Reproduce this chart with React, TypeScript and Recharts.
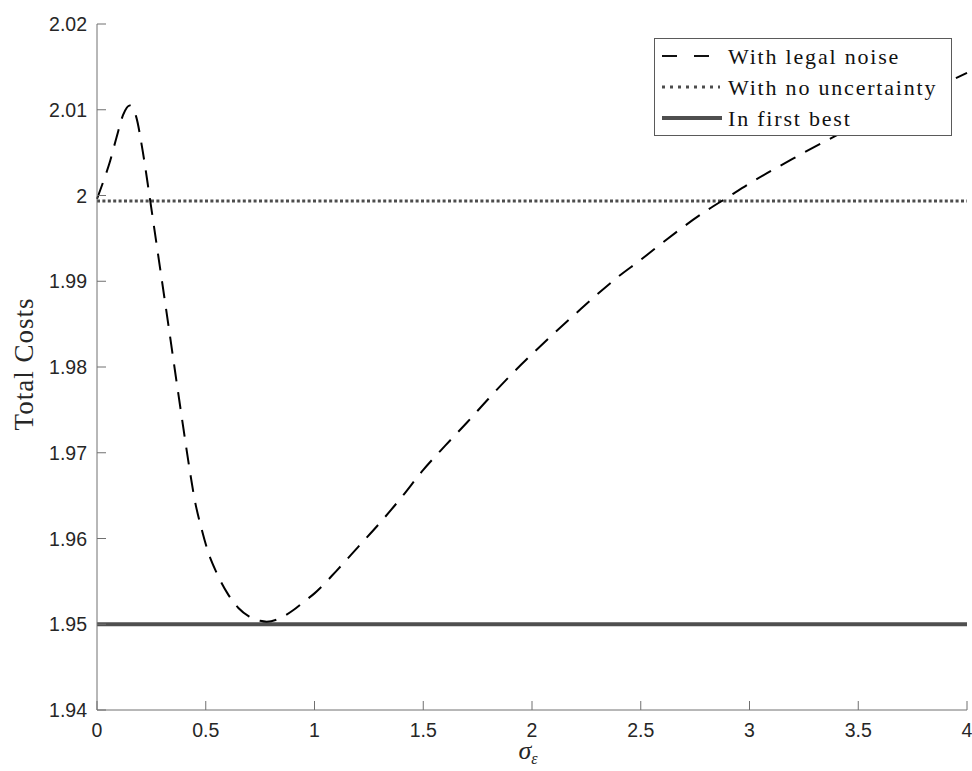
import React from "react";
import { Label, Legend, Line, LineChart, XAxis, YAxis } from "recharts";

// sigma_eps grid and total costs
const sigmaValues = [
  0, 0.03, 0.06, 0.09, 0.12, 0.15, 0.18, 0.21, 0.24, 0.27, 0.3, 0.33, 0.36, 0.39, 0.42, 0.45,
  0.48, 0.51, 0.55, 0.6, 0.65, 0.7, 0.75, 0.78, 0.85, 0.9, 0.95, 1, 1.1, 1.2, 1.3, 1.4, 1.5,
  1.6, 1.7, 1.8, 1.9, 2, 2.2, 2.4, 2.5, 2.6, 2.8, 2.9, 3, 3.2, 3.4, 3.6, 3.8, 4,
];
const legalNoiseCosts = [
  1.9996, 2.0017, 2.004, 2.0068, 2.0094, 2.0105, 2.0092, 2.0052, 2.0002, 1.995, 1.9898, 1.9846,
  1.9793, 1.9741, 1.969, 1.9644, 1.9612, 1.9585, 1.956, 1.9536, 1.9519, 1.9509, 1.9504, 1.9503,
  1.9508, 1.9516, 1.9526, 1.9536, 1.9562, 1.959, 1.9618, 1.9648, 1.968, 1.9708, 1.9735, 1.9763,
  1.979, 1.9815, 1.9862, 1.9906, 1.9925, 1.9945, 1.9982, 1.9998, 2.0014, 2.0043, 2.007, 2.0094,
  2.0119, 2.0143,
];
const noUncertaintyCost = 1.99935;
const firstBestCost = 1.95;

const xTicks = [0, 0.5, 1, 1.5, 2, 2.5, 3, 3.5, 4];
const yTicks = [1.94, 1.95, 1.96, 1.97, 1.98, 1.99, 2, 2.01, 2.02];

const legendItems = [
  { key: "noise", label: "With legal noise" },
  { key: "none", label: "With no uncertainty" },
  { key: "first", label: "In first best" },
];

const data = sigmaValues.map((s, i) => ({
  sigma: s,
  noise: legalNoiseCosts[i],
  none: noUncertaintyCost,
  first: firstBestCost,
}));

const AXIS = "#707070";
const TEXT = "#262626";
const SANS = "'Liberation Sans', Arial, Helvetica, sans-serif";
const SERIF = "'Liberation Serif', 'Times New Roman', serif";

const fmt = (v: number) => String(Number(v.toFixed(2)));

const YTick = ({ x, y, payload }: any) => (
  <g>
    <line x1={x + 10} x2={x + 19} y1={y} y2={y} stroke={AXIS} />
    <text x={x} y={y} dy="0.36em" textAnchor="end" fill={TEXT} fontFamily={SANS} fontSize={19.5}>
      {fmt(payload.value)}
    </text>
  </g>
);

const XTick = ({ x, y, payload }: any) => (
  <g>
    <line x1={x} x2={x} y1={y - 13} y2={y - 22} stroke={AXIS} />
    <text x={x} y={y} dy="0.71em" textAnchor="middle" fill={TEXT} fontFamily={SANS} fontSize={19.5}>
      {fmt(payload.value)}
    </text>
  </g>
);

const samples: Record<string, React.ReactNode> = {
  noise: <line x1={8} x2={56} y1={6} y2={6} stroke="#111" strokeWidth={2} strokeDasharray="15 17" />,
  none: <line x1={8} x2={66} y1={6} y2={6} stroke="#4d4d4d" strokeWidth={3} strokeDasharray="3 5" />,
  first: <line x1={8} x2={68} y1={6} y2={6} stroke="#4f4f4f" strokeWidth={4} />,
};

const LegendBox = () => (
  <div
    style={{
      width: 298,
      height: 98,
      boxSizing: "border-box",
      border: "1px solid #5a5a5a",
      background: "#fff",
      paddingTop: 2,
    }}
  >
    {legendItems.map((item) => (
      <div key={item.key} style={{ position: "relative", height: 31 }}>
        <svg width={74} height={12} style={{ position: "absolute", left: -1, top: 9 }}>
          {samples[item.key]}
        </svg>
        <span
          style={{
            position: "absolute",
            left: 73,
            top: 0,
            lineHeight: "31px",
            fontFamily: SERIF,
            fontSize: 22,
            letterSpacing: 1.8,
            color: "#111",
            whiteSpace: "nowrap",
          }}
        >
          {item.label}
        </span>
      </div>
    ))}
  </div>
);

export default function App() {
  return (
    <div style={{ position: "absolute", left: 0, top: 0, background: "#fff" }}>
      <LineChart width={972} height={771} data={data} margin={{ top: 24, right: 5, bottom: 0, left: 0 }}>
        <XAxis
          dataKey="sigma"
          type="number"
          domain={[0, 4]}
          ticks={xTicks}
          interval={0}
          height={61}
          stroke={AXIS}
          tickSize={0}
          tickMargin={13}
          tickLine={false}
          tick={<XTick />}
        >
          <Label
            content={({ viewBox }: any) => (
              <text
                x={viewBox.x + viewBox.width / 2 - 4}
                y={759}
                textAnchor="middle"
                fontFamily={SERIF}
                fontStyle="italic"
                fontSize={26}
                fill={TEXT}
              >
                σ
                <tspan dy={5} fontSize={16}>
                  ε
                </tspan>
              </text>
            )}
          />
        </XAxis>
        <YAxis
          type="number"
          domain={[1.94, 2.02]}
          ticks={yTicks}
          interval={0}
          width={97}
          stroke={AXIS}
          tickSize={0}
          tickMargin={10}
          tickLine={false}
          tick={<YTick />}
          allowDataOverflow
        >
          <Label
            content={() => (
              <text
                x={33}
                y={364}
                transform="rotate(-90 33 364)"
                textAnchor="middle"
                fontFamily={SERIF}
                fontSize={27}
                letterSpacing={1}
                fill={TEXT}
              >
                Total Costs
              </text>
            )}
          />
        </YAxis>
        <Line
          dataKey="first"
          type="linear"
          stroke="#4f4f4f"
          strokeWidth={4}
          dot={false}
          isAnimationActive={false}
        />
        <Line
          dataKey="none"
          type="linear"
          stroke="#4d4d4d"
          strokeWidth={3}
          strokeDasharray="3 2.4"
          dot={false}
          isAnimationActive={false}
        />
        <Line
          dataKey="noise"
          type="monotone"
          stroke="#000"
          strokeWidth={2}
          strokeDasharray="17 11"
          dot={false}
          isAnimationActive={false}
        />
        <Legend
          layout="vertical"
          align="center"
          verticalAlign="middle"
          content={<LegendBox />}
          wrapperStyle={{ left: 654, top: 38, width: 298, height: 98 }}
        />
      </LineChart>
    </div>
  );
}
